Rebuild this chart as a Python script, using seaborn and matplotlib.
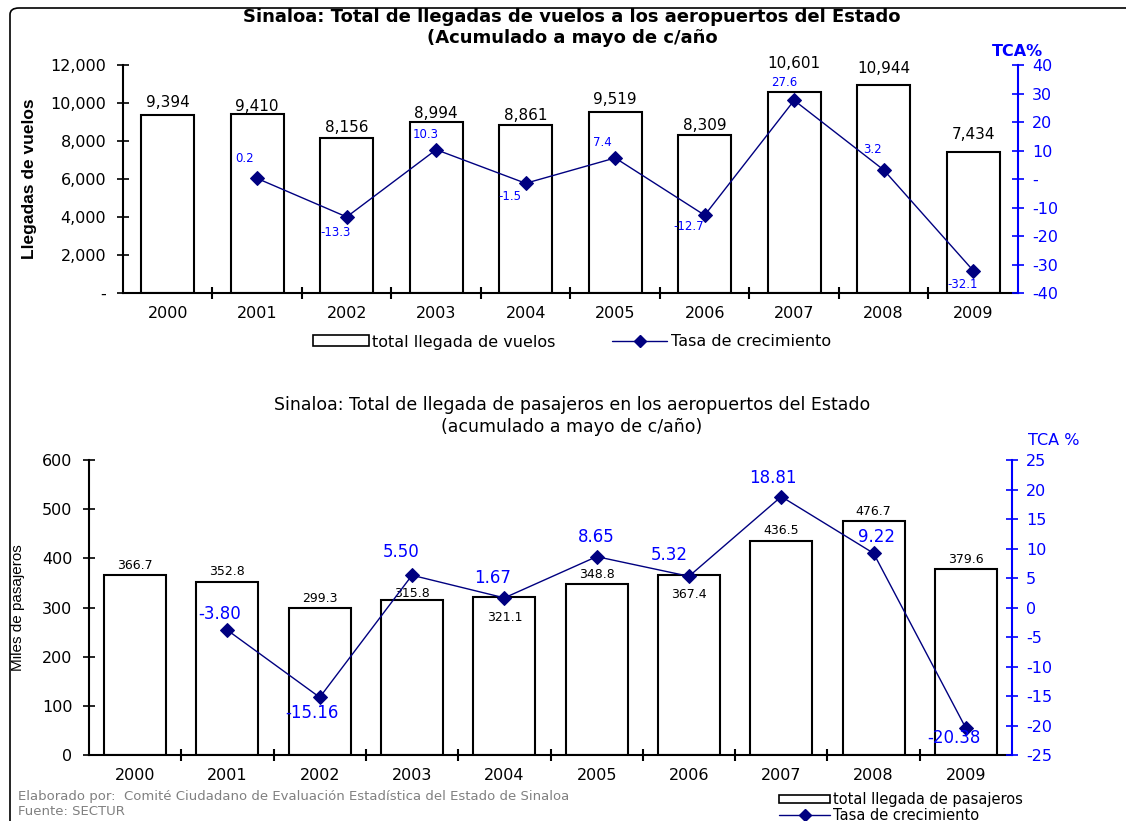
import numpy as np
import matplotlib
matplotlib.use("Agg")
import matplotlib.pyplot as plt
import seaborn as sns
from matplotlib.patches import Patch, FancyBboxPatch
from matplotlib.lines import Line2D

# ---- data ----
years = ["2000", "2001", "2002", "2003", "2004", "2005", "2006", "2007", "2008", "2009"]
tca_years = years[1:]

vuelos = [9394, 9410, 8156, 8994, 8861, 9519, 8309, 10601, 10944, 7434]
tca_vuelos = [0.2, -13.3, 10.3, -1.5, 7.4, -12.7, 27.6, 3.2, -32.1]

pasajeros = [366.7, 352.8, 299.3, 315.8, 321.1, 348.8, 367.4, 436.5, 476.7, 379.6]
tca_pasajeros = [-3.80, -15.16, 5.50, 1.67, 8.65, 5.32, 18.81, 9.22, -20.38]

vuelos_yticks = [0, 2000, 4000, 6000, 8000, 10000, 12000]
vuelos_tca_ticks = [-40, -30, -20, -10, 0, 10, 20, 30, 40]
pas_yticks = [0, 100, 200, 300, 400, 500, 600]
pas_tca_ticks = [-25, -20, -15, -10, -5, 0, 5, 10, 15, 20, 25]

# label offsets in pixels (style only)
vuelos_lab_dy = [12, 8, 11, 9, 9, 13, 10, 28, 17, 17]
tca_v_off = [(-13, 20), (-11, -16), (-11, 15), (-16, -13), (-13, 15),
             (-16, -11), (-10, 18), (-11, 20), (-11, -14)]
pas_lab_dy = [9, 10, 10, 6, -20, 9, -20, 10, 9, 9]
tca_p_off = [(-8, 16), (-8, -16), (-11, 23), (-12, 20), (0, 20),
             (-20, 21), (-8, 19), (3, 16), (-12, -10)]

NAVY = "#000080"
BLUE = "#0000FF"

sns.set_style("white")
plt.rcParams["font.family"] = ["DejaVu Sans"]
plt.rcParams["axes.unicode_minus"] = False
for k in ["text.color", "axes.labelcolor", "xtick.color", "ytick.color"]:
    plt.rcParams[k] = "black"

fig = plt.figure(figsize=(11.26, 8.21), dpi=100)

# frame around the whole picture
fig.patches.append(FancyBboxPatch((10 / 1126, -0.2), 1.3, 1 - 8 / 821 + 0.2,
                                  boxstyle="round,pad=0,rounding_size=0.008",
                                  transform=fig.transFigure, fill=False,
                                  edgecolor="black", linewidth=1.2))

pos_line = [years.index(y) for y in tca_years]


def style_axes(ax, ax2, bar_lw):
    ax.spines["top"].set_visible(False)
    ax.spines["right"].set_visible(False)
    for s in ["left", "bottom"]:
        ax.spines[s].set_color("black")
        ax.spines[s].set_linewidth(bar_lw)
    for s in ["top", "left", "bottom"]:
        ax2.spines[s].set_visible(False)
    ax2.spines["right"].set_color(BLUE)
    ax2.spines["right"].set_linewidth(1.5)
    ax.set_xlim(-0.5, 9.5)
    ax.set_xticks(range(len(years)))
    ax.set_xticklabels(years)
    ax.set_xticks(np.arange(0.5, 9.5, 1), minor=True)
    ax.tick_params(axis="x", which="major", length=0, pad=9, labelsize=11.5)
    ax.tick_params(axis="x", which="minor", direction="inout", length=8,
                   width=1.5, color="black", bottom=True)
    ax.tick_params(axis="y", direction="inout", length=8, width=1.2,
                   color="black", left=True, labelsize=11.5, pad=8)
    ax2.tick_params(axis="y", direction="inout", length=8, width=1.2,
                    color=BLUE, labelcolor=BLUE, right=True, labelsize=11.5, pad=6)
    ax.set_xlabel("")


# ================= top chart =================
ax = fig.add_axes([0.1092, 0.6431, 0.7948, 0.2777])
sns.barplot(x=years, y=vuelos, ax=ax, color="white", edgecolor="black",
            linewidth=1.5, width=0.59, saturation=1)
ax.set_ylim(0, 12000)
ax.set_yticks(vuelos_yticks)
ax.set_yticklabels(["-" if v == 0 else f"{v:,}" for v in vuelos_yticks])
ax.set_ylabel("Llegadas de vuelos", family=["Liberation Sans Narrow", "Liberation Sans"],
              fontsize=12.5, fontweight="bold", labelpad=10)
for i, v in enumerate(vuelos):
    ax.annotate(f"{v:,}", (i, v), xytext=(0, vuelos_lab_dy[i]),
                textcoords="offset pixels", ha="center", va="center", fontsize=11)

ax2 = ax.twinx()
sns.lineplot(x=pos_line, y=tca_vuelos, ax=ax2, color=NAVY, marker="D",
             markersize=7, markeredgecolor=NAVY, linewidth=1)
ax2.set_ylim(-40, 40)
ax2.set_yticks(vuelos_tca_ticks)
ax2.set_yticklabels(["-" if v == 0 else str(v) for v in vuelos_tca_ticks])
for i, v in enumerate(tca_vuelos):
    ax2.annotate(f"{v:.1f}", (pos_line[i], v), xytext=tca_v_off[i],
                 textcoords="offset pixels", ha="center", va="center",
                 fontsize=8.5, color=BLUE)
style_axes(ax, ax2, 1.5)
ax.set_xlim(-0.5, 9.5)
ax2.text(1.0, 1.06, "TCA%", transform=ax2.transAxes, ha="center", va="center",
         color=BLUE, fontsize=11.5, fontweight="bold")

fig.text(0.508, 1 - 17 / 821, "Sinaloa: Total de llegadas de vuelos a los aeropuertos del Estado",
         ha="center", va="center", fontsize=13, fontweight="bold")
fig.text(0.508, 1 - 38 / 821, "(Acumulado a mayo de c/año",
         ha="center", va="center", fontsize=13, fontweight="bold")

h_bar = Patch(facecolor="white", edgecolor="black", linewidth=1.2)
h_line = Line2D([], [], color=NAVY, marker="D", markersize=6, linewidth=1)
fig.legend([h_bar, h_line], ["total llegada de vuelos", "Tasa de crecimiento"],
           loc="center", bbox_to_anchor=(0.508, 1 - 342 / 821), ncol=2,
           frameon=False, fontsize=11.5, handlelength=3.5, handleheight=0.7,
           handletextpad=0.2, columnspacing=3.5)

# ================= bottom chart =================
bx = fig.add_axes([0.079, 0.0798, 0.8198, 0.3599])
sns.barplot(x=years, y=pasajeros, ax=bx, color="white", edgecolor="black",
            linewidth=1.5, width=0.67, saturation=1)
bx.set_ylim(0, 600)
bx.set_yticks(pas_yticks)
bx.set_yticklabels([str(v) for v in pas_yticks])
bx.set_ylabel("Miles de pasajeros", family=["Liberation Sans Narrow", "Liberation Sans"],
              fontsize=11, labelpad=12)
for i, v in enumerate(pasajeros):
    bx.annotate(f"{v:.1f}", (i, v), xytext=(0, pas_lab_dy[i]),
                textcoords="offset pixels", ha="center", va="center", fontsize=9)

bx2 = bx.twinx()
sns.lineplot(x=pos_line, y=tca_pasajeros, ax=bx2, color=NAVY, marker="D",
             markersize=7, markeredgecolor=NAVY, linewidth=1)
bx2.set_ylim(-25, 25)
bx2.set_yticks(pas_tca_ticks)
bx2.set_yticklabels([str(v) for v in pas_tca_ticks])
for i, v in enumerate(tca_pasajeros):
    bx2.annotate(f"{v:.2f}", (pos_line[i], v), xytext=tca_p_off[i],
                 textcoords="offset pixels", ha="center", va="center",
                 fontsize=12, color=BLUE)
style_axes(bx, bx2, 1.5)
bx.set_xlim(-0.5, 9.5)
bx2.text(1.045, 1.065, "TCA %", transform=bx2.transAxes, ha="center", va="center",
         color=BLUE, fontsize=11.5)

fig.text(0.508, 1 - 405 / 821, "Sinaloa: Total de llegada de pasajeros en los aeropuertos del Estado",
         ha="center", va="center", fontsize=12.5)
fig.text(0.508, 1 - 427 / 821, "(acumulado a mayo de c/año)",
         ha="center", va="center", fontsize=12.5)

fig.legend([h_bar, h_line], ["total llegada de pasajeros", "Tasa de crecimiento"],
           loc="upper left", bbox_to_anchor=(772 / 1126, 1 - 785 / 821), ncol=1,
           frameon=False, fontsize=10.5, handlelength=3.5, handleheight=0.5,
           handletextpad=0.2, labelspacing=0.02, borderpad=0)

fig.text(18 / 1126, 1 - 796 / 821,
         "Elaborado por:  Comité Ciudadano de Evaluación Estadística del Estado de Sinaloa",
         ha="left", va="center", fontsize=9.5, color="#808080")
fig.text(18 / 1126, 1 - 811 / 821, "Fuente: SECTUR",
         ha="left", va="center", fontsize=9.5, color="#808080")

fig.savefig("out.png", dpi=100)
